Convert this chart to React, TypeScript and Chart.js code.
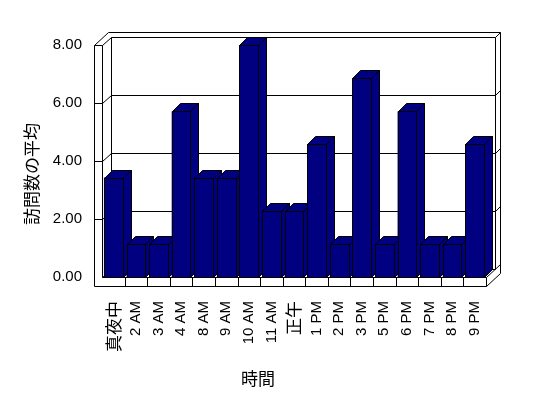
import React, { useEffect, useRef } from "react";
import { Chart, registerables } from "chart.js";

Chart.register(...registerables);

// ---- data ----
const categories = [
  "真夜中", "2 AM", "3 AM", "4 AM", "8 AM", "9 AM", "10 AM", "11 AM", "正午",
  "1 PM", "2 PM", "3 PM", "5 PM", "6 PM", "7 PM", "8 PM", "9 PM",
];
const visitAverages = [
  3.43, 1.14, 1.14, 5.71, 3.43, 3.43, 8.0, 2.29, 2.29,
  4.57, 1.14, 6.86, 1.14, 5.71, 1.14, 1.14, 4.57,
];
const yTickValues = [0, 2, 4, 6, 8];
const yAxisTitle = "訪問数の平均";
const xAxisTitle = "時間";

// ---- style ----
const NAVY = "#000080";
const LATIN = "'Liberation Sans', Arial, 'Noto Sans CJK JP', sans-serif";
const CJK = "'Noto Sans CJK JP', 'Noto Sans CJK SC', sans-serif";
const BOX_D = { x: 9, y: -8 };
const WALL_E = { x: 5, y: -5 };
const WALL_T = 8;
const FLOOR_T = 9;
const BAR_D = { x: 8, y: -8 };

const isCJK = (s: string) => /[\u3000-\u9fff]/.test(s);

const excel3d = {
  id: "excel3d",
  beforeDatasetsDraw(chart: any) {
    const { ctx, chartArea } = chart;
    const L = Math.round(chartArea.left);
    const R = Math.round(chartArea.right);
    const T = Math.round(chartArea.top);
    const B = Math.round(chartArea.bottom);
    const ys = chart.scales.y;
    const bx = BOX_D.x, by = BOX_D.y, ex = WALL_E.x, ey = WALL_E.y;
    ctx.save();
    ctx.lineWidth = 1;
    ctx.strokeStyle = "#000";
    const line = (pts: number[][]) => {
      ctx.beginPath();
      pts.forEach(([x, y], i) => (i ? ctx.lineTo(x + 0.5, y + 0.5) : ctx.moveTo(x + 0.5, y + 0.5)));
      ctx.stroke();
    };
    // left wall front face
    line([[L - WALL_T, B + FLOOR_T], [L - WALL_T, T], [L, T], [L, B]]);
    // left wall top
    line([[L - WALL_T, T], [L - WALL_T + bx + ex, T + by + ey]]);
    line([[L, T], [L + bx, T + by]]);
    // back wall
    line([[L - WALL_T + bx + ex, T + by + ey], [R + bx + ex, T + by + ey], [R + bx + ex, B + FLOOR_T + by + ey]]);
    line([[L + bx, B + by], [L + bx, T + by], [R + bx, T + by], [R + bx, B + by]]);
    line([[R + bx, T + by], [R + bx + ex, T + by + ey]]);
    // floor
    line([[L, B], [R, B], [R, B + FLOOR_T], [L - WALL_T, B + FLOOR_T]]);
    line([[R, B], [R + bx + ex, B + by + ey]]);
    line([[R, B + FLOOR_T], [R + bx + ex, B + FLOOR_T + by + ey]]);
    line([[L, B], [L + bx, B + by], [R + bx, B + by]]);
    // category dividers on floor front
    const n = categories.length;
    for (let i = 1; i < n; i++) {
      const x = Math.round(L + (i * (R - L)) / n);
      line([[x, B], [x, B + FLOOR_T]]);
    }
    // gridlines
    yTickValues.forEach((v) => {
      if (v === 0 || v === ys.max) return;
      const y = Math.round(ys.getPixelForValue(v));
      line([[L - WALL_T, y], [L, y], [L + bx, y + by], [R + bx, y + by], [R + bx + ex, y + by + ey]]);
    });
    ctx.restore();
  },
  afterDatasetsDraw(chart: any) {
    const { ctx } = chart;
    const meta = chart.getDatasetMeta(0);
    const dx = BAR_D.x, dy = BAR_D.y;
    ctx.save();
    ctx.lineWidth = 1;
    ctx.strokeStyle = "#000";
    ctx.fillStyle = NAVY;
    const poly = (pts: number[][]) => {
      ctx.beginPath();
      pts.forEach(([x, y], i) => (i ? ctx.lineTo(x + 0.5, y + 0.5) : ctx.moveTo(x + 0.5, y + 0.5)));
      ctx.closePath();
      ctx.fill();
      ctx.stroke();
    };
    meta.data.forEach((bar: any) => {
      const { x, y, base, width } = bar.getProps(["x", "y", "base", "width"], true);
      const l = Math.round(x - width / 2);
      const r = Math.round(x + width / 2);
      const t = Math.round(y);
      const b = Math.round(base);
      poly([[r, t], [r + dx, t + dy], [r + dx, b + dy], [r, b]]);
      poly([[l, t], [l + dx, t + dy], [r + dx, t + dy], [r, t]]);
      poly([[l, t], [r, t], [r, b], [l, b]]);
    });
    ctx.restore();
  },
  afterDraw(chart: any) {
    const { ctx } = chart;
    ctx.save();
    ctx.fillStyle = "#000";
    ctx.font = `17px ${CJK}`;
    ctx.textAlign = "center";
    ctx.textBaseline = "middle";
    ctx.save();
    ctx.translate(32, 174);
    ctx.rotate(-Math.PI / 2);
    ctx.fillText(yAxisTitle, 0, 0);
    ctx.restore();
    ctx.fillText(xAxisTitle, 258, 379);
    ctx.restore();
  },
};

export default function App() {
  const ref = useRef<HTMLCanvasElement | null>(null);
  useEffect(() => {
    if (!ref.current) return;
    const chart = new Chart(ref.current, {
      type: "bar",
      data: {
        labels: categories,
        datasets: [
          {
            data: visitAverages,
            backgroundColor: NAVY,
            borderWidth: 0,
            barPercentage: 0.83,
            categoryPercentage: 1,
          },
        ],
      },
      options: {
        animation: false,
        responsive: false,
        maintainAspectRatio: false,
        layout: { padding: { top: 45, right: 62, bottom: 0, left: 0 } },
        plugins: { legend: { display: false }, tooltip: { enabled: false } },
        scales: {
          x: {
            grid: { display: false, drawTicks: false },
            border: { display: false },
            ticks: {
              autoSkip: false,
              maxRotation: 90,
              minRotation: 90,
              padding: 24,
              color: "#000",
              font: (c: any) =>
                isCJK(categories[c.index] || "")
                  ? { family: CJK, size: 17 }
                  : { family: LATIN, size: 15 },
            },
            afterFit: (s: any) => {
              s.height = 121;
            },
          },
          y: {
            min: 0,
            max: 8,
            grid: { display: false, drawTicks: false },
            border: { display: false },
            afterBuildTicks: (s: any) => {
              s.ticks = yTickValues.map((v) => ({ value: v }));
            },
            ticks: {
              padding: 20,
              color: "#000",
              font: { family: LATIN, size: 15 },
              callback: (v: any) => Number(v).toFixed(2),
            },
            afterFit: (s: any) => {
              s.width = 102;
            },
          },
        },
      },
      plugins: [excel3d],
    } as any);
    return () => chart.destroy();
  }, []);
  return (
    <div style={{ position: "absolute", left: 0, top: 0, width: 548, height: 398 }}>
      <canvas ref={ref} width={548} height={398} />
    </div>
  );
}
